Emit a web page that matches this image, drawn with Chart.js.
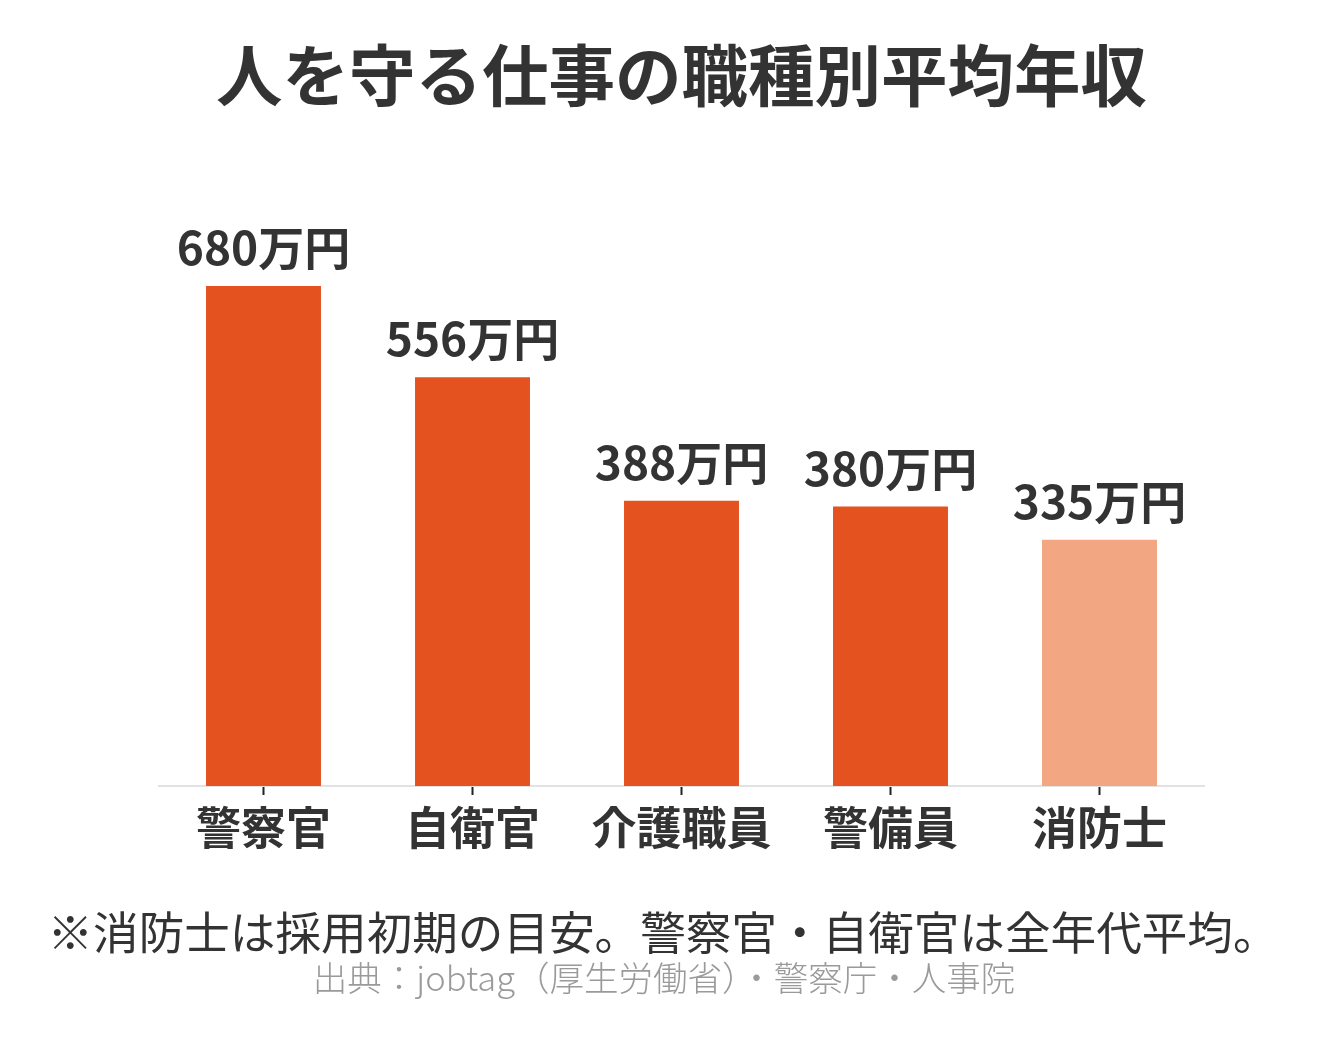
<!DOCTYPE html>
<html>
<head>
<meta charset="utf-8">
<script src="https://cdn.jsdelivr.net/npm/chart.js@4.4.1/dist/chart.umd.min.js"></script>
<style>
    html, body { margin: 0; padding: 0; background: #fff; }
    #wrap { width: 1328px; height: 1044px; position: relative; }
</style>
</head>
<body>
<div id="wrap"><canvas id="chart"></canvas></div>
<script>
    'use strict';

    var titleText = '人を守る仕事の職種別平均年収';
    var categories = ['警察官', '自衛官', '介護職員', '警備員', '消防士'];
    var salaries = [680, 556, 388, 380, 335];
    var valueSuffix = '万円';
    var noteText = '※消防士は採用初期の目安。警察官・自衛官は全年代平均。';
    var sourceText = '出典：jobtag（厚生労働省）・警察庁・人事院';

    var FONT = '"Noto Sans CJK JP", "Noto Sans", sans-serif';
    var barColors = ['#E3521F', '#E3521F', '#E3521F', '#E3521F', '#F2A682'];

    // value labels above bars + the notes under the axis
    var labelsPlugin = {
        id: 'valueLabels',
        afterDatasetsDraw: function(chart) {
            var ctx = chart.ctx;
            var meta = chart.getDatasetMeta(0);
            ctx.save();
            ctx.fillStyle = '#333333';
            ctx.font = 'bold 46px ' + FONT;
            ctx.textAlign = 'center';
            ctx.textBaseline = 'alphabetic';
            meta.data.forEach(function(bar, i) {
                ctx.fillText(salaries[i] + valueSuffix, bar.x, bar.y - 21);
            });

            ctx.font = '400 45.6px ' + FONT;
            ctx.fillStyle = '#333333';
            ctx.fillText(noteText, chart.width / 2 - 1, 950);

            ctx.font = '300 34.5px ' + FONT;
            ctx.fillStyle = '#9a9a9a';
            ctx.fillText(sourceText, chart.width / 2, 991);
            ctx.restore();
        }
    };

    new Chart(document.getElementById('chart'), {
        type: 'bar',
        data: {
            labels: categories,
            datasets: [{
                data: salaries,
                backgroundColor: barColors,
                borderWidth: 0,
                categoryPercentage: 1,
                barPercentage: 0.55
            }]
        },
        options: {
            responsive: true,
            maintainAspectRatio: false,
            animation: false,
            layout: {
                padding: { left: 159, right: 124, top: 0, bottom: 138 }
            },
            plugins: {
                legend: { display: false },
                tooltip: { enabled: false },
                title: {
                    display: true,
                    text: titleText,
                    color: '#333333',
                    font: { family: FONT, size: 66.5, weight: 'bold' },
                    padding: { top: 36, bottom: 82 }
                }
            },
            scales: {
                x: {
                    afterFit: function(scale) { scale.height = 120; },
                    border: { display: true, color: '#e2e2e2', width: 2 },
                    grid: {
                        offset: false,
                        drawOnChartArea: false,
                        drawTicks: true,
                        tickLength: 9,
                        tickWidth: 2,
                        color: '#222222'
                    },
                    ticks: {
                        color: '#333333',
                        padding: 6,
                        font: { family: FONT, size: 45, weight: 'bold' }
                    }
                },
                y: {
                    display: false,
                    min: 0,
                    max: 800
                }
            }
        },
        plugins: [labelsPlugin]
    });
</script>
</body>
</html>
